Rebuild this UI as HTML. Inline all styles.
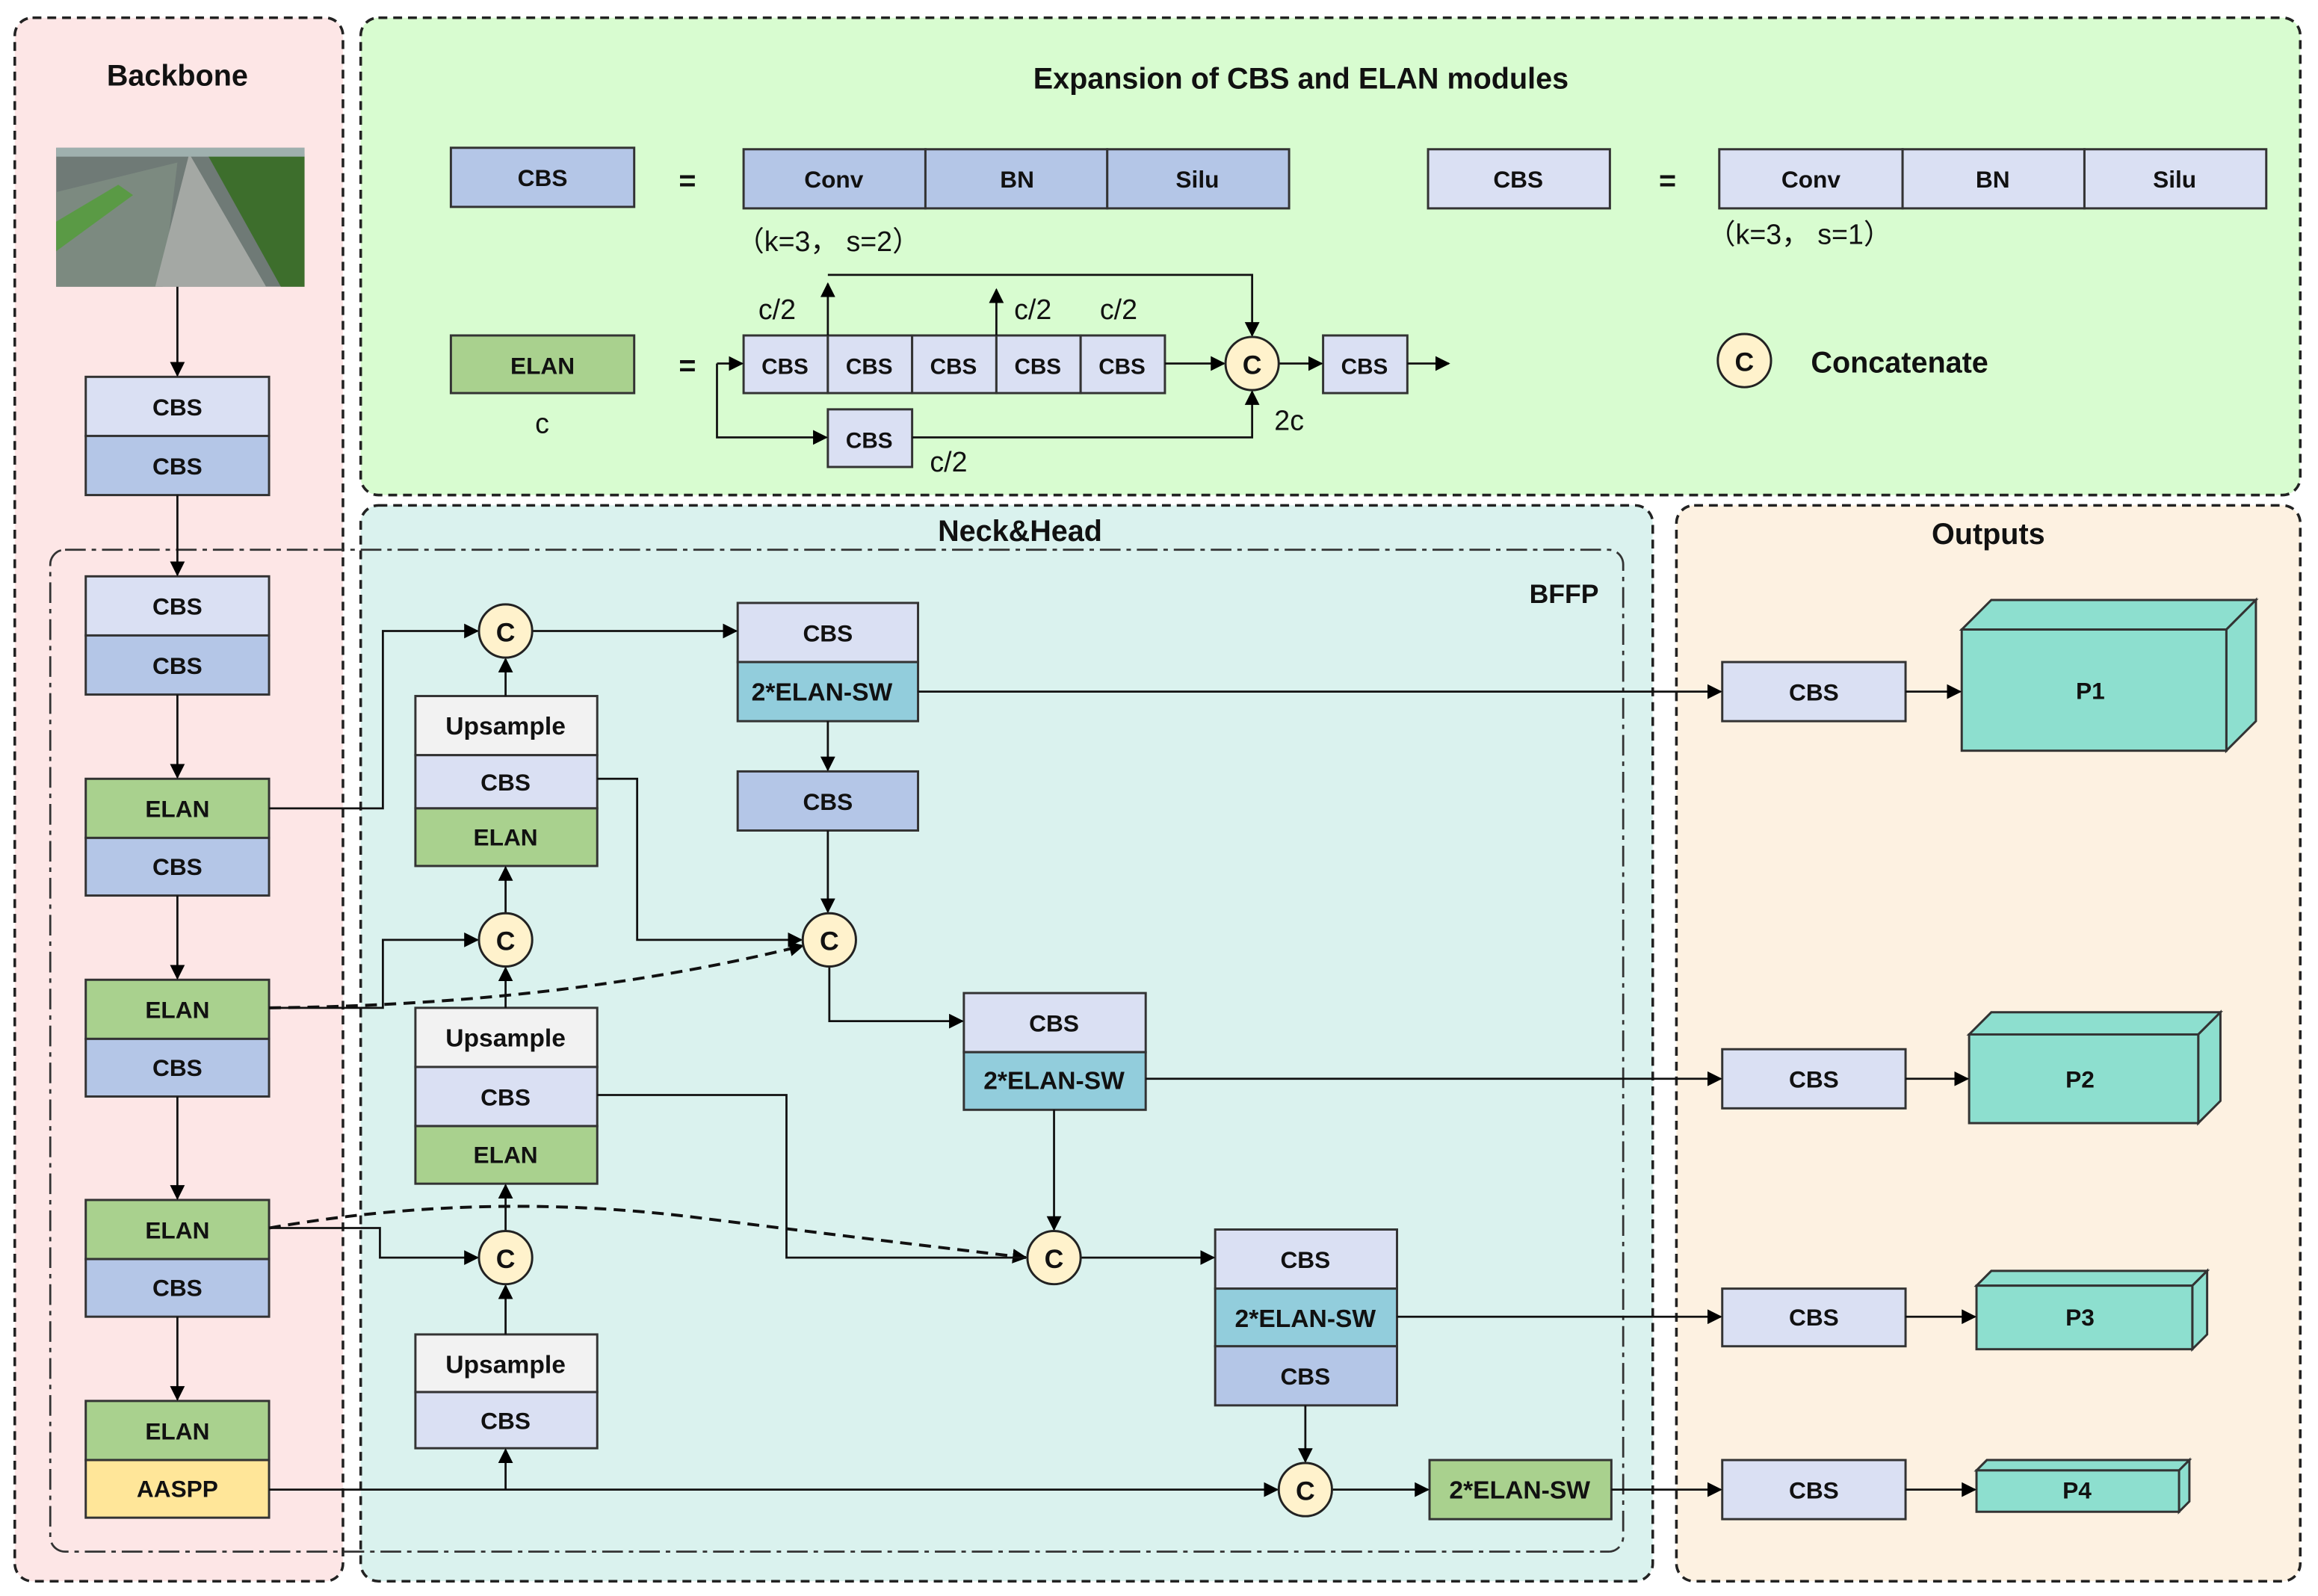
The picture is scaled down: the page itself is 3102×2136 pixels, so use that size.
<!DOCTYPE html>
<html><head><meta charset="utf-8"><style>
html,body{margin:0;padding:0;background:#fff;}
svg{display:block;}
text{font-family:"Liberation Sans","Noto Sans CJK SC",sans-serif;font-weight:bold;fill:#111;}
</style></head><body>
<svg width="3102" height="2136" viewBox="0 0 1568 1080" preserveAspectRatio="none" xmlns="http://www.w3.org/2000/svg">
<defs>
<marker id="a" markerWidth="10" markerHeight="10" refX="9" refY="5" orient="auto" markerUnits="userSpaceOnUse"><path d="M0,0 L10,5 L0,10 z" fill="#000"/></marker>
</defs>
<!-- panels -->
<rect x="10" y="12" width="222" height="1058" rx="12" fill="#fde6e6" stroke="#222" stroke-width="1.8" stroke-dasharray="6,4"/>
<rect x="244" y="12" width="1312" height="323" rx="12" fill="#d8fcd0" stroke="#222" stroke-width="1.8" stroke-dasharray="6,4"/>
<rect x="244" y="342" width="874" height="728" rx="12" fill="#daf2ee" stroke="#222" stroke-width="1.8" stroke-dasharray="6,4"/>
<rect x="1134" y="342" width="422" height="728" rx="12" fill="#fdf1e1" stroke="#222" stroke-width="1.8" stroke-dasharray="6,4"/>
<rect x="34" y="372" width="1064" height="678" rx="10" fill="none" stroke="#333" stroke-width="1.4" stroke-dasharray="14,4,3,4"/>

<text x="120" y="58" font-size="20" text-anchor="middle">Backbone</text>
<text x="880" y="60" font-size="20" text-anchor="middle">Expansion of CBS and ELAN modules</text>
<text x="690" y="366" font-size="20" text-anchor="middle">Neck&amp;Head</text>
<text x="1058" y="408" font-size="18" text-anchor="middle">BFFP</text>
<text x="1345" y="368" font-size="20" text-anchor="middle">Outputs</text>

<!-- image -->
<rect x="38" y="100" width="168" height="94" fill="#6f7a76"/>
<path d="M38,130 L120,110 L110,194 L38,194z" fill="#7c8a80"/>
<path d="M38,150 L80,125 L90,132 L38,170z" fill="#5a9a45"/>
<path d="M128,104 L180,194 L105,194z" fill="#a4a8a4"/>
<path d="M140,104 L206,104 L206,194 L190,194z" fill="#3d6e2c"/>
<rect x="38" y="100" width="168" height="6" fill="#9fb0ae"/>

<g stroke="#333" stroke-width="1.5">
<!-- backbone -->
<rect x="58" y="255" width="124" height="40" fill="#dae0f3"/>
<rect x="58" y="295" width="124" height="40" fill="#b4c6e7"/>
<rect x="58" y="390" width="124" height="40" fill="#dae0f3"/>
<rect x="58" y="430" width="124" height="40" fill="#b4c6e7"/>
<rect x="58" y="527" width="124" height="40" fill="#a9d18e"/>
<rect x="58" y="567" width="124" height="39" fill="#b4c6e7"/>
<rect x="58" y="663" width="124" height="40" fill="#a9d18e"/>
<rect x="58" y="703" width="124" height="39" fill="#b4c6e7"/>
<rect x="58" y="812" width="124" height="40" fill="#a9d18e"/>
<rect x="58" y="852" width="124" height="39" fill="#b4c6e7"/>
<rect x="58" y="948" width="124" height="40" fill="#a9d18e"/>
<rect x="58" y="988" width="124" height="39" fill="#ffe699"/>
<!-- neck col 1 -->
<rect x="281" y="471" width="123" height="40" fill="#f2f2f2"/>
<rect x="281" y="511" width="123" height="36" fill="#dae0f3"/>
<rect x="281" y="547" width="123" height="39" fill="#a9d18e"/>
<rect x="281" y="682" width="123" height="40" fill="#f2f2f2"/>
<rect x="281" y="722" width="123" height="40" fill="#dae0f3"/>
<rect x="281" y="762" width="123" height="39" fill="#a9d18e"/>
<rect x="281" y="903" width="123" height="39" fill="#f2f2f2"/>
<rect x="281" y="942" width="123" height="38" fill="#dae0f3"/>
<!-- col 2 -->
<rect x="499" y="408" width="122" height="40" fill="#dae0f3"/>
<rect x="499" y="448" width="122" height="40" fill="#92cddc"/>
<rect x="499" y="522" width="122" height="40" fill="#b4c6e7"/>
<rect x="652" y="672" width="123" height="40" fill="#dae0f3"/>
<rect x="652" y="712" width="123" height="39" fill="#92cddc"/>
<rect x="822" y="832" width="123" height="40" fill="#dae0f3"/>
<rect x="822" y="872" width="123" height="39" fill="#92cddc"/>
<rect x="822" y="911" width="123" height="40" fill="#b4c6e7"/>
<rect x="967" y="988" width="123" height="40" fill="#a9d18e"/>
<!-- outputs -->
<rect x="1165" y="448" width="124" height="40" fill="#dae0f3"/>
<rect x="1165" y="710" width="124" height="40" fill="#dae0f3"/>
<rect x="1165" y="872" width="124" height="39" fill="#dae0f3"/>
<rect x="1165" y="988" width="124" height="40" fill="#dae0f3"/>
<!-- 3D boxes -->
<g fill="#8ddfcf">
<path d="M1327,426 L1347,406 L1526,406 L1506,426z"/><path d="M1506,426 L1526,406 L1526,488 L1506,508z"/><rect x="1327" y="426" width="179" height="82"/>
<path d="M1332,700 L1347,685 L1502,685 L1487,700z"/><path d="M1487,700 L1502,685 L1502,745 L1487,760z"/><rect x="1332" y="700" width="155" height="60"/>
<path d="M1337,870 L1347,860 L1493,860 L1483,870z"/><path d="M1483,870 L1493,860 L1493,903 L1483,913z"/><rect x="1337" y="870" width="146" height="43"/>
<path d="M1337,995 L1344,988 L1481,988 L1474,995z"/><path d="M1474,995 L1481,988 L1481,1016 L1474,1023z"/><rect x="1337" y="995" width="137" height="28"/>
</g>
<!-- expansion -->
<rect x="305" y="100" width="124" height="40" fill="#b4c6e7"/>
<rect x="503" y="101" width="123" height="40" fill="#b4c6e7"/>
<rect x="626" y="101" width="123" height="40" fill="#b4c6e7"/>
<rect x="749" y="101" width="123" height="40" fill="#b4c6e7"/>
<rect x="966" y="101" width="123" height="40" fill="#dae0f3"/>
<rect x="1163" y="101" width="124" height="40" fill="#dae0f3"/>
<rect x="1287" y="101" width="123" height="40" fill="#dae0f3"/>
<rect x="1410" y="101" width="123" height="40" fill="#dae0f3"/>
<rect x="305" y="227" width="124" height="39" fill="#a9d18e"/>
<rect x="503" y="227" width="57" height="39" fill="#dae0f3"/>
<rect x="560" y="227" width="57" height="39" fill="#dae0f3"/>
<rect x="617" y="227" width="57" height="39" fill="#dae0f3"/>
<rect x="674" y="227" width="57" height="39" fill="#dae0f3"/>
<rect x="731" y="227" width="57" height="39" fill="#dae0f3"/>
<rect x="895" y="227" width="57" height="39" fill="#dae0f3"/>
<rect x="560" y="277" width="57" height="39" fill="#dae0f3"/>
</g>

<!-- connectors -->
<g stroke="#111" stroke-width="1.4" fill="none">
<line x1="120" y1="194" x2="120" y2="254" marker-end="url(#a)"/>
<line x1="120" y1="335" x2="120" y2="389" marker-end="url(#a)"/>
<line x1="120" y1="470" x2="120" y2="526" marker-end="url(#a)"/>
<line x1="120" y1="606" x2="120" y2="662" marker-end="url(#a)"/>
<line x1="120" y1="742" x2="120" y2="811" marker-end="url(#a)"/>
<line x1="120" y1="891" x2="120" y2="947" marker-end="url(#a)"/>
<polyline points="182,547 259,547 259,427 323,427" marker-end="url(#a)"/>
<polyline points="182,682 259,682 259,636 323,636" marker-end="url(#a)"/>
<polyline points="182,831 257,831 257,851 323,851" marker-end="url(#a)"/>
<path d="M182,682 Q380,680 543,640" stroke-dasharray="8,5" stroke-width="2" marker-end="url(#a)"/>
<path d="M182,831 Q330,805 480,825 Q600,840 694,851" stroke-dasharray="8,5" stroke-width="2" marker-end="url(#a)"/>
<line x1="182" y1="1008" x2="864" y2="1008" marker-end="url(#a)"/>
<line x1="342" y1="1008" x2="342" y2="981" marker-end="url(#a)"/>
<line x1="342" y1="903" x2="342" y2="870" marker-end="url(#a)"/>
<line x1="342" y1="833" x2="342" y2="802" marker-end="url(#a)"/>
<line x1="342" y1="682" x2="342" y2="655" marker-end="url(#a)"/>
<line x1="342" y1="618" x2="342" y2="587" marker-end="url(#a)"/>
<line x1="342" y1="471" x2="342" y2="446" marker-end="url(#a)"/>
<line x1="360" y1="427" x2="498" y2="427" marker-end="url(#a)"/>
<polyline points="404,527 431,527 431,636 542,636" marker-end="url(#a)"/>
<polyline points="404,741 532,741 532,851 694,851"/>
<line x1="621" y1="468" x2="1164" y2="468" marker-end="url(#a)"/>
<line x1="560" y1="488" x2="560" y2="521" marker-end="url(#a)"/>
<line x1="560" y1="562" x2="560" y2="617" marker-end="url(#a)"/>
<polyline points="561,654 561,691 651,691" marker-end="url(#a)"/>
<line x1="775" y1="730" x2="1164" y2="730" marker-end="url(#a)"/>
<line x1="713" y1="751" x2="713" y2="832" marker-end="url(#a)"/>
<line x1="731" y1="851" x2="821" y2="851" marker-end="url(#a)"/>
<line x1="945" y1="891" x2="1164" y2="891" marker-end="url(#a)"/>
<line x1="883" y1="951" x2="883" y2="989" marker-end="url(#a)"/>
<line x1="901" y1="1008" x2="966" y2="1008" marker-end="url(#a)"/>
<line x1="1090" y1="1008" x2="1164" y2="1008" marker-end="url(#a)"/>
<line x1="1289" y1="468" x2="1326" y2="468" marker-end="url(#a)"/>
<line x1="1289" y1="730" x2="1331" y2="730" marker-end="url(#a)"/>
<line x1="1289" y1="891" x2="1336" y2="891" marker-end="url(#a)"/>
<line x1="1289" y1="1008" x2="1336" y2="1008" marker-end="url(#a)"/>
<!-- expansion -->
<line x1="485" y1="246" x2="502" y2="246" marker-end="url(#a)"/>
<polyline points="485,246 485,296 559,296" marker-end="url(#a)"/>
<polyline points="617,296 847,296 847,265" marker-end="url(#a)"/>
<line x1="788" y1="246" x2="828" y2="246" marker-end="url(#a)"/>
<line x1="865" y1="246" x2="894" y2="246" marker-end="url(#a)"/>
<line x1="952" y1="246" x2="980" y2="246" marker-end="url(#a)"/>
<line x1="560" y1="227" x2="560" y2="192" marker-end="url(#a)"/>
<polyline points="560,186 847,186 847,227" marker-end="url(#a)"/>
<line x1="674" y1="227" x2="674" y2="196" marker-end="url(#a)"/>
</g>

<!-- concat circles -->
<g fill="#fff2cc" stroke="#222" stroke-width="1.5">
<circle cx="342" cy="427" r="18"/><circle cx="342" cy="636" r="18"/><circle cx="342" cy="851" r="18"/>
<circle cx="561" cy="636" r="18"/><circle cx="713" cy="851" r="18"/><circle cx="883" cy="1008" r="18"/>
<circle cx="847" cy="246" r="18"/><circle cx="1180" cy="244" r="18"/>
</g>
<g font-size="18" text-anchor="middle">
<text x="342" y="434">C</text><text x="342" y="643">C</text><text x="342" y="858">C</text>
<text x="561" y="643">C</text><text x="713" y="858">C</text><text x="883" y="1015">C</text>
<text x="847" y="253">C</text><text x="1180" y="251">C</text>
</g>
<text x="1225" y="252" font-size="20">Concatenate</text>

<!-- labels -->
<g font-size="16" text-anchor="middle">
<text x="120" y="281">CBS</text><text x="120" y="321">CBS</text>
<text x="120" y="416">CBS</text><text x="120" y="456">CBS</text>
<text x="120" y="553">ELAN</text><text x="120" y="592">CBS</text>
<text x="120" y="689">ELAN</text><text x="120" y="728">CBS</text>
<text x="120" y="838">ELAN</text><text x="120" y="877">CBS</text>
<text x="120" y="974">ELAN</text><text x="120" y="1013">AASPP</text>
<text x="342" y="497" font-size="17">Upsample</text><text x="342" y="535">CBS</text><text x="342" y="572">ELAN</text>
<text x="342" y="708" font-size="17">Upsample</text><text x="342" y="748">CBS</text><text x="342" y="787">ELAN</text>
<text x="342" y="929" font-size="17">Upsample</text><text x="342" y="967">CBS</text>
<text x="560" y="434">CBS</text><text x="556" y="474" font-size="17">2*ELAN-SW</text><text x="560" y="548">CBS</text>
<text x="713" y="698">CBS</text><text x="713" y="737" font-size="17">2*ELAN-SW</text>
<text x="883" y="858">CBS</text><text x="883" y="898" font-size="17">2*ELAN-SW</text><text x="883" y="937">CBS</text>
<text x="1028" y="1014" font-size="17">2*ELAN-SW</text>
<text x="1227" y="474">CBS</text><text x="1227" y="736">CBS</text><text x="1227" y="897">CBS</text><text x="1227" y="1014">CBS</text>
<text x="1414" y="473" font-weight="normal">P1</text><text x="1407" y="736" font-weight="normal">P2</text>
<text x="1407" y="897" font-weight="normal">P3</text><text x="1405" y="1014" font-weight="normal">P4</text>
<text x="367" y="126">CBS</text><text x="564" y="127">Conv</text><text x="688" y="127">BN</text><text x="810" y="127">Silu</text>
<text x="1027" y="127">CBS</text><text x="1225" y="127">Conv</text><text x="1348" y="127">BN</text><text x="1471" y="127">Silu</text>
<text x="367" y="253">ELAN</text>
<text x="531" y="253" font-size="15">CBS</text><text x="588" y="253" font-size="15">CBS</text><text x="645" y="253" font-size="15">CBS</text><text x="702" y="253" font-size="15">CBS</text><text x="759" y="253" font-size="15">CBS</text>
<text x="923" y="253" font-size="15">CBS</text><text x="588" y="303" font-size="15">CBS</text>
</g>
<g font-size="20" text-anchor="middle">
<text x="465" y="129">=</text><text x="1128" y="129">=</text><text x="465" y="254">=</text>
</g>
<g font-size="19">
<text x="498" y="170" style="font-weight:normal">（k=3， s=2）</text>
<text x="1155" y="165" style="font-weight:normal">（k=3， s=1）</text>
<text x="362" y="293" style="font-weight:normal">c</text>
<text x="513" y="216" style="font-weight:normal">c/2</text>
<text x="686" y="216" style="font-weight:normal">c/2</text>
<text x="744" y="216" style="font-weight:normal">c/2</text>
<text x="629" y="319" style="font-weight:normal">c/2</text>
<text x="862" y="291" style="font-weight:normal">2c</text>
</g>
</svg>
</body></html>
